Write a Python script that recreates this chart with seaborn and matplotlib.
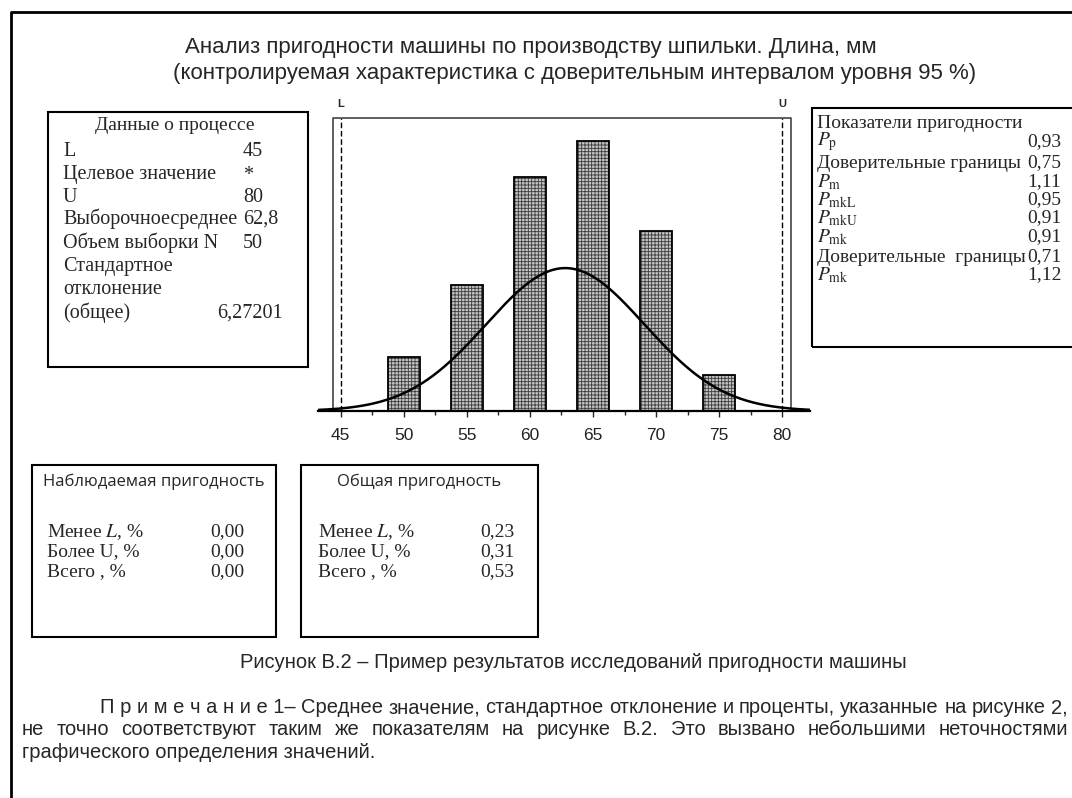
import numpy as np
import matplotlib
matplotlib.use('Agg')
import matplotlib.pyplot as plt
import seaborn as sns
from matplotlib.patches import Rectangle
from matplotlib.lines import Line2D

# Histogram data (bin centres in mm, number of parts per bin)
bin_centers = [50, 55, 60, 65, 70, 75]
counts = [3, 7, 13, 15, 10, 2]
lsl, usl = 45, 80
sample_mean = 62.8
sample_sd = 6.27201
n_parts = 50
bar_width_mm = 2.5
tick_values = [45, 50, 55, 60, 65, 70, 75, 80]

process_rows = [('L', '45'), ('Целевое значение', '*'), ('U', '80'),
                ('Выборочноесреднее', '62,8'), ('Объем выборки N', '50'),
                ('Стандартное', ''), ('отклонение', ''), ('(общее)', '6,27201')]
index_labels = [r'$P_{\mathrm{p}}$', 'Доверительные границы', r'$P_{\mathrm{m}}$',
                r'$P_{\mathrm{mkL}}$', r'$P_{\mathrm{mkU}}$', r'$P_{\mathrm{mk}}$',
                'Доверительные  границы', r'$P_{\mathrm{mk}}$']
index_values = ['0,93', '0,75', '1,11', '0,95', '0,91', '0,91', '0,71', '1,12']
pct_labels = [r'Менее $L$, %', 'Более U, %', 'Всего , %']
observed_pct = ['0,00', '0,00', '0,00']
overall_pct = ['0,23', '0,31', '0,53']

sns.set_theme(style='white')
plt.rcParams['font.family'] = ['Liberation Sans', 'DejaVu Sans']
plt.rcParams['mathtext.fontset'] = 'stix'
plt.rcParams['hatch.linewidth'] = 0.6

W, H = 1072, 798
fig = plt.figure(figsize=(W / 100, H / 100), dpi=100)
fig.patch.set_facecolor('white')


def fx(x):
    return x / W


def fy(y):
    return 1 - y / H


def ptext(x, y, s, **kw):
    kw.setdefault('va', 'center')
    return fig.text(fx(x), fy(y), s, **kw)


def pbox(x0, y0, x1, y1, lw=1.5):
    fig.patches.append(Rectangle((fx(x0), fy(y1)), fx(x1) - fx(x0), fy(y0) - fy(y1),
                                 transform=fig.transFigure, fill=False,
                                 edgecolor='black', linewidth=lw))


def pline(xs, ys, lw=2):
    fig.lines.append(Line2D([fx(v) for v in xs], [fy(v) for v in ys],
                            transform=fig.transFigure, color='black', linewidth=lw))


# page frame
pline([11, 11, W], [H, 12, 12], lw=2)

# title
ptext(185, 47, 'Анализ пригодности машины по производству шпильки. Длина, мм', fontsize=16)
ptext(173, 74, '(контролируемая характеристика с доверительным интервалом уровня 95 %)', fontsize=16)

# histogram
ax = fig.add_axes([fx(318), fy(411), fx(810) - fx(318), fy(118) - fy(411)])
sns.barplot(x=bin_centers, y=counts, native_scale=True, width=0.5, ax=ax,
            color='#c4c4c4', edgecolor='#3c3c3c', linewidth=0)
for p in list(ax.patches):
    p.set_hatch('+++++')
    ax.add_patch(Rectangle(p.get_xy(), p.get_width(), p.get_height(), fill=False,
                           edgecolor='black', linewidth=1.3, zorder=3))

xs = np.linspace(43.2, 82.2, 400)
curve = n_parts * bar_width_mm / (sample_sd * np.sqrt(2 * np.pi)) * \
    np.exp(-0.5 * ((xs - sample_mean) / sample_sd) ** 2)
sns.lineplot(x=xs, y=curve, ax=ax, color='black', linewidth=1.8, zorder=4)

ymax = 16.3
ax.set_xlim(43.2, 82.2)
ax.set_ylim(0, ymax)
ax.axvline(lsl, color='black', linestyle='--', linewidth=1, dashes=(4, 2))
ax.axvline(usl, color='black', linestyle='--', linewidth=1, dashes=(4, 2))
bx0, bx1 = 44.36, 80.7
ax.plot([bx0, bx0, bx1, bx1], [0, ymax, ymax, 0], color='#444444', linewidth=1.2,
        clip_on=False)
ax.text(lsl, ymax + 0.8, 'L', ha='center', va='center', fontsize=8, fontweight='bold')
ax.text(usl, ymax + 0.8, 'U', ha='center', va='center', fontsize=8, fontweight='bold')

for side in ['top', 'left', 'right']:
    ax.spines[side].set_visible(False)
ax.spines['bottom'].set_color('black')
ax.spines['bottom'].set_linewidth(1.6)
ax.set_xticks(tick_values)
ax.set_xticks([v + 2.5 for v in tick_values[:-1]], minor=True)
ax.set_yticks([])
ax.tick_params(axis='x', which='major', direction='out', length=4, width=1,
               pad=8, labelsize=12.5, bottom=True, labelcolor='#222222')
ax.tick_params(axis='x', which='minor', direction='out', length=3, width=1, bottom=True)
ax.set_xlabel('')
ax.set_ylabel('')
ax.patch.set_alpha(0)

# process data box
serif = ['Liberation Serif', 'DejaVu Serif']
pbox(48, 112, 308, 367)
ptext(175, 125, 'Данные о процессе', fontsize=14, family=serif, ha='center')
row_y = [152, 175, 197, 219, 243, 267, 290, 313]
for (lab, val), y in zip(process_rows, row_y):
    ptext(63, y, lab, fontsize=14.5, family=serif)
    if val:
        ptext(217 if val == '6,27201' else 243, y, val, fontsize=14.5, family=serif)

# capability indices box
pbox(812, 108, W + 5, 347)
ptext(817, 123, 'Показатели пригодности', fontsize=14, family=serif)
idx_y = [142, 163, 182, 200, 218, 237, 257, 275]
for lab, val, y in zip(index_labels, index_values, idx_y):
    ptext(817, y, lab, fontsize=14, family=serif)
    ptext(1027, y, val, fontsize=14, family=serif)

# percentage boxes
sansc = ['Open Sans', 'DejaVu Sans']
for (bx0_, bx1_, title, vals, tx, vx) in [
        (32, 276, 'Наблюдаемая пригодность', observed_pct, 47, 210),
        (301, 538, 'Общая пригодность', overall_pct, 318, 480)]:
    pbox(bx0_, 465, bx1_, 637)
    ptext((bx0_ + bx1_) / 2, 482, title, fontsize=12, family=sansc, ha='center')
    for lab, val, y in zip(pct_labels, vals, [532, 552, 572]):
        ptext(tx, y, lab, fontsize=14, family=serif)
        ptext(vx, y, val, fontsize=14, family=serif)

# caption and note
ptext(573, 662, 'Рисунок В.2 – Пример результатов исследований пригодности машины',
      fontsize=14.5, ha='center')

renderer = fig.canvas.get_renderer()


def justify(words, x0, x1, y, size):
    items = [ptext(x0, y, w, fontsize=size, va='baseline') for w in words]
    widths = [t.get_window_extent(renderer).width for t in items]
    gap = (x1 - x0 - sum(widths)) / max(len(words) - 1, 1)
    x = x0
    for t, w in zip(items, widths):
        t.set_x(fx(x))
        x += w + gap


note_size = 14.5
line1 = ['П р и м е ч а н и е 1–'] + \
    'Среднее значение, стандартное отклонение и проценты, указанные на рисунке 2,'.split()
line2 = 'не точно соответствуют таким же показателям на рисунке В.2. Это вызвано ' \
    'небольшими неточностями'.split()
justify(line1, 100, 1068, 713, note_size)
justify(line2, 22, 1068, 735, note_size)
ptext(22, 758, 'графического определения значений.', fontsize=note_size, va='baseline')

fig.savefig('out.png', dpi=100)
